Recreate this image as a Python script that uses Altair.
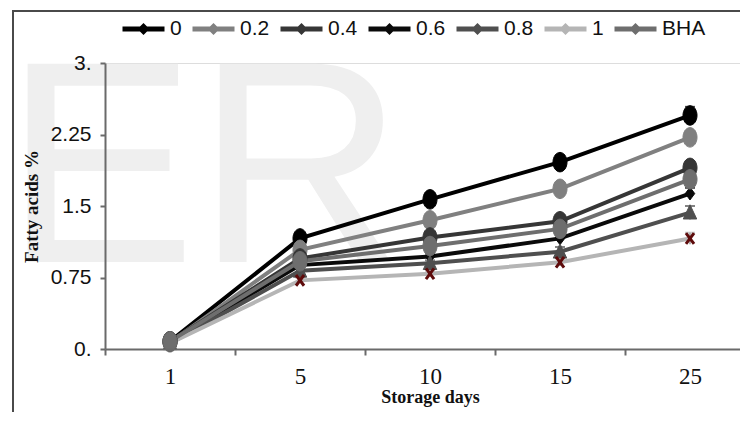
import altair as alt
import pandas as pd

# ---- data ----
days = ["1", "5", "10", "15", "25"]
series_names = ["0", "0.2", "0.4", "0.6", "0.8", "1", "BHA"]

v_0   = [0.08, 1.16, 1.57, 1.96, 2.45]
v_02  = [0.07, 1.04, 1.35, 1.68, 2.22]
v_04  = [0.08, 0.95, 1.17, 1.34, 1.90]
v_06  = [0.07, 0.88, 0.97, 1.16, 1.63]
v_08  = [0.06, 0.82, 0.90, 1.02, 1.43]
v_1   = [0.06, 0.72, 0.79, 0.91, 1.16]
v_bha = [0.08, 0.92, 1.08, 1.26, 1.78]

e_0   = [0.02, 0.04, 0.05, 0.07, 0.09]
e_02  = [0.02, 0.03, 0.04, 0.05, 0.06]
e_04  = [0.02, 0.03, 0.04, 0.05, 0.07]
e_06  = [0.02, 0.03, 0.03, 0.05, 0.06]
e_08  = [0.02, 0.03, 0.03, 0.05, 0.07]
e_1   = [0.02, 0.03, 0.03, 0.04, 0.06]
e_bha = [0.02, 0.03, 0.04, 0.05, 0.06]

all_vals = [v_0, v_02, v_04, v_06, v_08, v_1, v_bha]
all_errs = [e_0, e_02, e_04, e_06, e_08, e_1, e_bha]

watermark = ["ER"]

# ---- styles ----
line_colors = ["#000000", "#808080", "#363636", "#0a0a0a", "#4f4f4f", "#b5b5b5", "#6e6e6e"]
marker_colors = ["#000000", "#808080", "#363636", "#0a0a0a", "#4f4f4f", "#5e0b0b", "#6e6e6e"]
ellipse = "M0,-1A0.72,1,0,1,1,0,1A0.72,1,0,1,1,0,-1Z"
diamond = "M0,-1L0.75,0L0,1L-0.75,0Z"
triangle = "M0,-1L0.85,0.8L-0.85,0.8Z"
xmark = "M-0.6,-0.8L0.6,0.8M0.6,-0.8L-0.6,0.8"
marker_shapes = [ellipse, ellipse, ellipse, diamond, triangle, xmark, ellipse]
marker_sizes = [380, 380, 380, 160, 250, 180, 380]

rows = []
for name, vals, errs in zip(series_names, all_vals, all_errs):
    for d, v, e in zip(days, vals, errs):
        rows.append({"day": d, "series": name, "value": v, "lo": v - e, "hi": v + e})
df = pd.DataFrame(rows)

x_scale = alt.Scale(domain=days, paddingInner=0, paddingOuter=0)
x_enc = alt.X(
    "day:O",
    sort=days,
    scale=x_scale,
    axis=alt.Axis(
        title="Storage days", labelAngle=0, tickBand="extent",
        domainColor="#6a6a6a", domainWidth=2, tickColor="#6a6a6a", tickWidth=2, tickSize=6,
        labelFont="Liberation Serif", labelFontSize=23, labelColor="#111111", labelPadding=10,
        titleFont="Liberation Serif", titleFontWeight="bold", titleFontSize=18,
        titleColor="#111111", titlePadding=0, zindex=1,
    ),
)
y_enc = alt.Y(
    "value:Q",
    scale=alt.Scale(domain=[0, 3], nice=False, zero=True),
    axis=alt.Axis(
        title="Fatty acids %", values=[0, 0.75, 1.5, 2.25, 3], grid=False, format=".2~f",
        labelExpr="datum.value == 3 ? '3.' : (datum.value == 0 ? '0.' : datum.label)",
        domainColor="#6a6a6a", domainWidth=2, tickColor="#6a6a6a", tickWidth=2, tickSize=5,
        labelFont="Liberation Sans", labelFontSize=21, labelColor="#111111", labelPadding=9,
        titleFont="Liberation Serif", titleFontWeight="bold", titleFontSize=19,
        titleColor="#111111", titlePadding=9, zindex=1,
    ),
)

# legend symbol: a line with a small diamond in the middle (stroked path)
legend_symbol = "M-1,0H1M-0.12,0L0,-0.12L0.12,0L0,0.12Z"

# watermark
wm = alt.Chart(pd.DataFrame({"t": watermark})).mark_text(
    align="left", baseline="alphabetic", fontSize=288, font="Liberation Sans",
    color="#efefef",
).encode(text="t:N", x=alt.value(-101), y=alt.value(199))

# figure frame lines (from the source image)
frame_top = alt.Chart(pd.DataFrame({"k": [0]})).mark_rule(color="#4a4a4a", strokeWidth=2).encode(
    x=alt.value(-93), x2=alt.value(660), y=alt.value(-52)
)
frame_left = alt.Chart(pd.DataFrame({"k": [0]})).mark_rule(color="#4a4a4a", strokeWidth=2).encode(
    x=alt.value(-92), y=alt.value(-52), y2=alt.value(400)
)

base = alt.Chart(df)
color_scale = alt.Scale(domain=series_names, range=line_colors)

lines = base.mark_line(strokeWidth=4).encode(
    x=x_enc,
    y=y_enc,
    color=alt.Color(
        "series:N", scale=color_scale, sort=series_names,
        legend=alt.Legend(
            title=None, orient="none", direction="horizontal", columns=7,
            legendX=15, legendY=-58,
            symbolType=legend_symbol, symbolSize=1764, symbolStrokeWidth=5,
            symbolOpacity=1,
            labelFont="Liberation Sans", labelFontSize=21, labelColor="#111111",
            labelOffset=3, columnPadding=0, padding=0,
        ),
    ),
)

mark_layers = []
for name, lcol in zip(series_names, line_colors):
    sub = base.transform_filter(alt.datum.series == name)
    mark_layers.append(
        sub.mark_rule(strokeWidth=2, color=lcol).encode(
            x=alt.X("day:O", sort=days, scale=x_scale),
            y=alt.Y("lo:Q"),
            y2="hi:Q",
        )
    )
    mark_layers.append(
        sub.mark_tick(thickness=2, size=10, color=lcol).encode(
            x=alt.X("day:O", sort=days, scale=x_scale),
            y=alt.Y("hi:Q"),
        )
    )
for name, col, shp, sz in zip(series_names, marker_colors, marker_shapes, marker_sizes):
    if shp == xmark:
        props = dict(shape=shp, size=sz, filled=False, stroke=col, strokeWidth=3, opacity=1)
    else:
        props = dict(shape=shp, size=sz, filled=True, fill=col, stroke=col, strokeWidth=1, opacity=1)
    mark_layers.append(
        base.transform_filter(alt.datum.series == name).mark_point(**props).encode(
            x=alt.X("day:O", sort=days, scale=x_scale),
            y=alt.Y("value:Q"),
        )
    )

chart = alt.layer(
    wm, frame_top, frame_left, lines, *mark_layers
).properties(
    width=650, height=286,
    autosize=alt.AutoSizeParams(type="none"),
    padding={"left": 97, "top": 55, "right": -15, "bottom": 63},
).configure_view(stroke=None).configure(background="white")

chart.save("out.html", embed_options={"renderer": "svg", "actions": False})
